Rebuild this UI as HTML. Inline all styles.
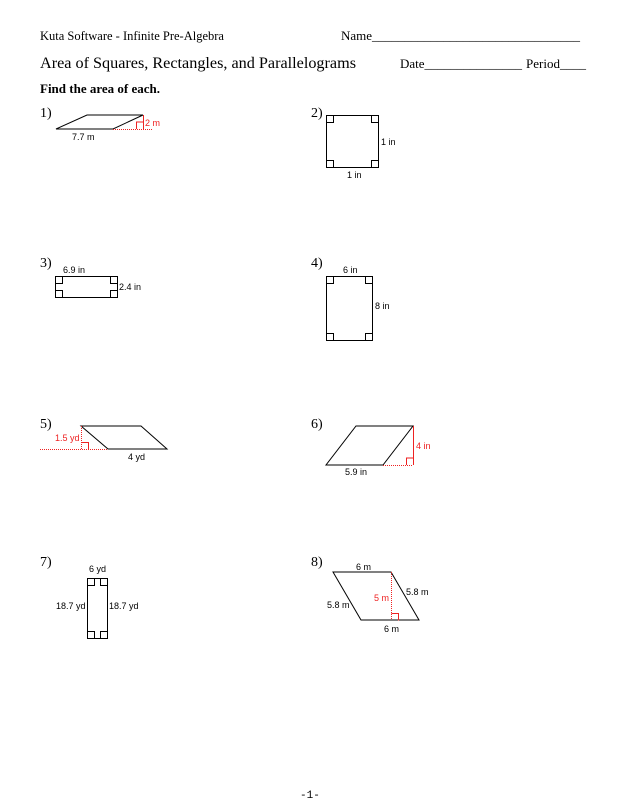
<!DOCTYPE html><html><head><style>body{margin:0;background:#fff}svg{display:block}</style></head><body>
<svg width="618" height="800" xmlns="http://www.w3.org/2000/svg">
<g font-family="Liberation Serif, serif" fill="#000">
<text x="40" y="40" font-size="12.5">Kuta Software - Infinite Pre-Algebra</text>
<text x="341" y="40" font-size="13">Name________________________________</text>
<text x="40" y="68" font-size="16.2">Area of Squares, Rectangles, and Parallelograms</text>
<text x="400" y="68" font-size="13">Date_______________</text>
<text x="526" y="68" font-size="13">Period____</text>
<text x="40" y="93" font-size="13" font-weight="bold">Find the area of each.</text>
<g font-size="14">
<text x="40" y="117">1)</text><text x="311" y="117">2)</text>
<text x="40" y="267">3)</text><text x="311" y="267">4)</text>
<text x="40" y="428">5)</text><text x="311" y="428">6)</text>
<text x="40" y="566">7)</text><text x="311" y="566">8)</text>
</g>
<text x="300" y="798" font-size="11" font-family="Liberation Mono, monospace">-1-</text>
</g>
<g fill="none" stroke="#000" stroke-width="1">
<polygon points="87,115 143,115 113,129 56,129"/>
<rect x="326.5" y="115.5" width="52" height="52"/>
<path d="M326.5,122.5h7v-7M371.5,115.5v7h7M326.5,160.5h7v7M371.5,167.5v-7h7"/>
<rect x="55.5" y="276.5" width="62" height="21"/>
<path d="M55.5,283.5h7v-7M110.5,276.5v7h7M55.5,290.5h7v7M110.5,297.5v-7h7"/>
<rect x="326.5" y="276.5" width="46" height="64"/>
<path d="M326.5,283.5h7v-7M365.5,276.5v7h7M326.5,333.5h7v7M365.5,340.5v-7h7"/>
<polygon points="81,426 141,426 167,449 108,449"/>
<polygon points="356,426 413,426 383,465 326,465"/>
<rect x="87.5" y="578.5" width="20" height="60"/>
<path d="M87.5,585.5h7v-7M100.5,578.5v7h7M87.5,631.5h7v7M100.5,638.5v-7h7"/>
<polygon points="333,572 391,572 419,620 361,620"/>
</g>
<g fill="none" stroke="#e22" stroke-width="1">
<path d="M113,129.5H153" stroke-dasharray="1,1"/><path d="M143.5,115v14M136.5,129v-7h7"/>
<path d="M40,449.5H108M81.5,426v23" stroke-dasharray="1,1"/><path d="M81.5,442.5h7v7"/>
<path d="M383,465.5H413" stroke-dasharray="1,1"/><path d="M413.5,426v39M406.5,465v-7h7"/>
<path d="M391.5,572v48" stroke-dasharray="1,1"/><path d="M391.5,613.5h7v7"/>
</g>
<g font-family="Liberation Sans, sans-serif" font-size="9">
<text x="145" y="126" fill="#e22">2 m</text><text x="72" y="140">7.7 m</text>
<text x="381" y="145">1 in</text><text x="347" y="178">1 in</text>
<text x="63" y="273">6.9 in</text><text x="119" y="290">2.4 in</text>
<text x="343" y="273">6 in</text><text x="375" y="309">8 in</text>
<text x="55" y="441" fill="#e22">1.5 yd</text><text x="128" y="460">4 yd</text>
<text x="416" y="449" fill="#e22">4 in</text><text x="345" y="475">5.9 in</text>
<text x="89" y="572">6 yd</text><text x="56" y="609">18.7 yd</text><text x="109" y="609">18.7 yd</text>
<text x="356" y="570">6 m</text><text x="384" y="632">6 m</text><text x="406" y="595">5.8 m</text><text x="327" y="608">5.8 m</text><text x="374" y="601" fill="#e22">5 m</text>
</g>
</svg></body></html>
